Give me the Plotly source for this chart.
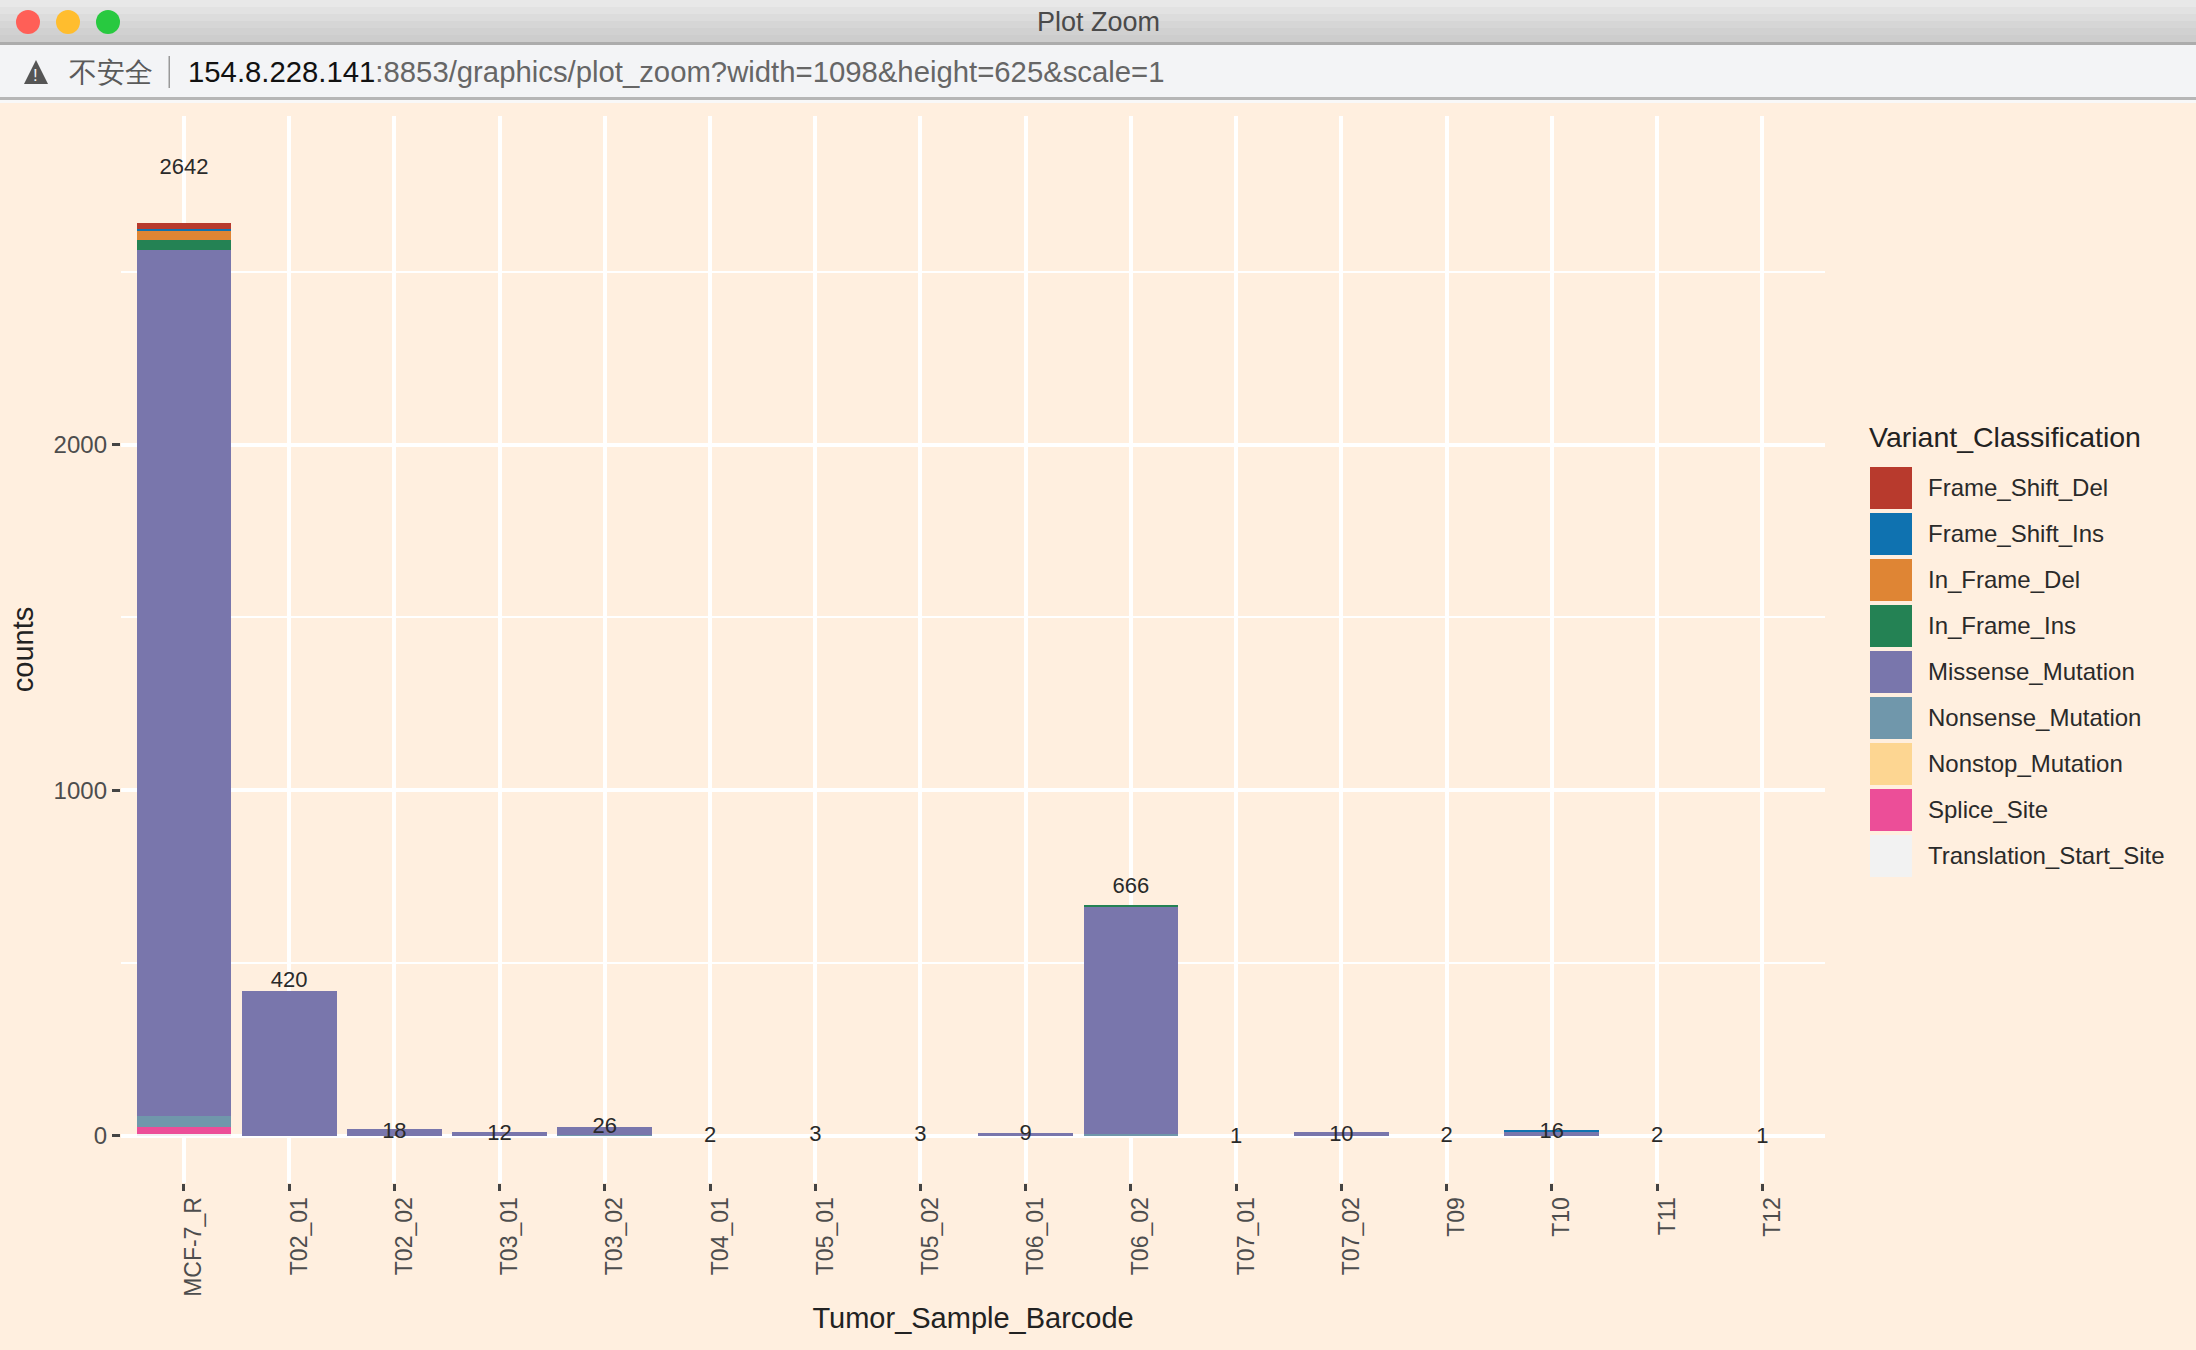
import plotly.graph_objects as go

samples = ["MCF-7_R", "T02_01", "T02_02", "T03_01", "T03_02", "T04_01", "T05_01", "T05_02",
           "T06_01", "T06_02", "T07_01", "T07_02", "T09", "T10", "T11", "T12"]
totals = [2642, 420, 18, 12, 26, 2, 3, 3, 9, 666, 1, 10, 2, 16, 2, 1]
label_heights = [2800, 445, 8, 2, 24, -1, 0, 0, 4, 718, -4, 1, -1, 9, -1, -5]

frame_shift_del = [17, 0, 0, 0, 0, 0, 0, 0, 0, 0, 0, 0, 0, 0, 0, 0]
frame_shift_ins = [6, 0, 0, 0, 0, 0, 0, 0, 0, 0, 0, 0, 0, 4, 0, 0]
in_frame_del = [28, 0, 0, 0, 0, 0, 0, 0, 0, 0, 0, 0, 0, 0, 0, 0]
in_frame_ins = [29, 0, 0, 0, 0, 0, 0, 0, 0, 3, 0, 0, 0, 0, 0, 0]
missense = [2505, 420, 18, 12, 23, 0, 0, 0, 9, 659, 0, 10, 0, 12, 0, 0]
nonsense = [33, 0, 0, 0, 3, 0, 0, 0, 0, 4, 0, 0, 0, 0, 0, 0]
nonstop = [0, 0, 0, 0, 0, 0, 0, 0, 0, 0, 0, 0, 0, 0, 0, 0]
splice = [19, 0, 0, 0, 0, 0, 0, 0, 0, 0, 0, 0, 0, 0, 0, 0]
translation = [5, 0, 0, 0, 0, 0, 0, 0, 0, 0, 0, 0, 0, 0, 0, 0]

classes = ["Frame_Shift_Del", "Frame_Shift_Ins", "In_Frame_Del", "In_Frame_Ins", "Missense_Mutation",
           "Nonsense_Mutation", "Nonstop_Mutation", "Splice_Site", "Translation_Start_Site"]
series = [frame_shift_del, frame_shift_ins, in_frame_del, in_frame_ins, missense,
          nonsense, nonstop, splice, translation]
colors = ["#B83A2D", "#0F72B0", "#DF8534", "#248254", "#7976AC", "#7097AB", "#FDD692", "#EC4E98", "#F2F2F2"]

W, H = 2196, 1350
PEACH = "#FFEFDF"
FONT = "Liberation Sans"


def px(x):
    return x / W


def py(y):
    return 1 - y / H


fig = go.Figure()
for name, vals, col in reversed(list(zip(classes, series, colors))):
    fig.add_trace(go.Bar(x=samples, y=vals, name=name, marker=dict(color=col, line=dict(width=0)),
                         width=0.9, showlegend=False))
fig.add_trace(go.Scatter(x=samples, y=label_heights, text=[str(t) for t in totals],
                         mode="text", textposition="middle center", showlegend=False, cliponaxis=False,
                         textfont=dict(family=FONT, size=22, color="#2A2A2A")))

shapes = []
annots = []


def rect(x0, y0, x1, y1, col, layer="below"):
    shapes.append(dict(type="rect", xref="paper", yref="paper", x0=px(x0), x1=px(x1), y0=py(y0), y1=py(y1),
                       fillcolor=col, line=dict(width=0), layer=layer))


def text(x, y, s, size, col, anchor="left"):
    annots.append(dict(xref="paper", yref="paper", x=px(x), y=py(y), text=s, showarrow=False, xanchor=anchor,
                       yanchor="middle", font=dict(family=FONT, size=size, color=col), align=anchor))


# page background and window chrome
rect(0, 0, W, H, PEACH)
for i, c in enumerate(["#E8E8E8", "#E2E2E2", "#DCDCDC", "#D6D6D6", "#D1D1D1", "#CDCDCD"]):
    rect(0, i * 7, W, (i + 1) * 7 + 1, c)
rect(0, 42, W, 45, "#ACACAC")
rect(0, 45, W, 97, "#F3F4F6")
rect(0, 97, W, 100, "#B6B6B6")
rect(0, 100, W, 103, "#F8F8F8")
for cx, c in zip([28, 68, 108], ["#FF5F57", "#FFBD2E", "#28C940"]):
    shapes.append(dict(type="circle", xref="paper", yref="paper", x0=px(cx - 12), x1=px(cx + 12),
                       y0=py(34), y1=py(10), fillcolor=c, line=dict(width=0), layer="below"))
shapes.append(dict(type="path", xref="paper", yref="paper", layer="below", fillcolor="#555555", line=dict(width=0),
                   path=f"M {px(36)} {py(60)} L {px(48)} {py(84)} L {px(24)} {py(84)} Z"))
rect(168.5, 56, 170, 88, "#999999")
text(1098, 22, "Plot Zoom", 27, "#4A4A4A", "center")
text(35.5, 75, "!", 17, "#F3F4F6", "center")
text(67, 72, "不安全", 28, "#5A5A5A")
text(186, 71, '<span style="color:#111111">154.8.228.141</span>:8853/graphics/plot_zoom?width=1098&height=625&scale=1',
     29.3, "#666666")

# legend
text(1867, 437, "Variant_Classification", 28.5, "#222222")
for i, (name, col) in enumerate(zip(classes, colors)):
    top = 467 + 46 * i
    rect(1870, top, 1912, top + 42, col)
    text(1926, top + 20, name, 24, "#2A2A2A")

fig.update_layout(
    width=W, height=H, margin=dict(l=0, r=0, t=0, b=0), paper_bgcolor=PEACH, plot_bgcolor=PEACH,
    barmode="stack", bargap=0.1, shapes=shapes, annotations=annots,
    font=dict(family=FONT),
    xaxis=dict(domain=[px(120.8), px(1825.4)], range=[-0.6, 15.6], type="category", categoryorder="array",
               categoryarray=samples, showgrid=True, gridcolor="white", gridwidth=3.5, zeroline=False,
               showline=False, ticks="outside", ticklen=7, tickwidth=3, tickcolor="#444444",
               tickangle=-90, tickfont=dict(family=FONT, size=23, color="#4D4D4D"), ticklabelshift=10,
               ticklabelstandoff=-3, automargin=False,
               title=dict(text="Tumor_Sample_Barcode", font=dict(family=FONT, size=29, color="#222222"), standoff=11)),
    yaxis=dict(domain=[py(1183), py(116)], range=[-137, 2951], tickvals=[0, 1000, 2000],
               ticktext=["0", "1000", "2000"], showgrid=True, gridcolor="white", gridwidth=3.5, zeroline=False,
               showline=False, ticks="outside", ticklen=8, tickwidth=3, tickcolor="#444444",
               tickfont=dict(family=FONT, size=24, color="#4D4D4D"), automargin=False,
               minor=dict(tickvals=[500, 1500, 2500], showgrid=True, gridcolor="white", gridwidth=2, ticks=""),
               title=dict(text="counts", font=dict(family=FONT, size=29, color="#222222"), standoff=11)),
)

fig.write_html("out.html", post_script="document.body.style.margin='0';", config=dict(displayModeBar=False))
